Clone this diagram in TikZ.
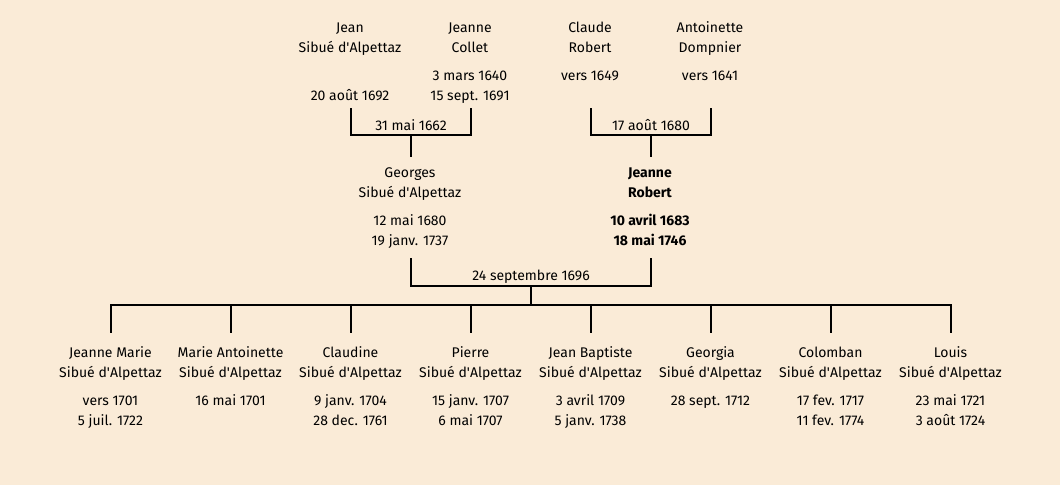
\documentclass[tikz,border=0pt]{standalone}
\usepackage{fontspec}
\setmainfont{Fira Sans}
\definecolor{paper}{HTML}{FAEBD7}
\newcommand{\sibue}{Sibué d\textquotesingle Alpettaz}
\tikzset{
  txt/.style={align=center, inner sep=0pt, anchor=base, font=\fontsize{14}{20}\selectfont},
  hers/.style={txt, font=\fontsize{14}{20}\selectfont\bfseries},
  link/.style={line width=2pt}
}

\begin{document}
\begin{tikzpicture}[x=1pt,y=-1pt]
        \fill[paper] (0,0) rectangle (1060,485);
        \useasboundingbox (0,0) rectangle (1060,485);
        % grandparents (y = baseline of the last line)
        \node[txt] (jean) at (350,52) {Jean\\\sibue};
        \node[txt] (jean-d) at (350,100) {20 août 1692};
        \node[txt] (collet) at (470,52) {Jeanne\\Collet};
        \node[txt] (collet-d) at (470,100) {3 mars 1640\\15 sept. 1691};
        \node[txt] (claude) at (590,52) {Claude\\Robert};
        \node[txt] (claude-d) at (590,80) {vers 1649};
        \node[txt] (antoinette) at (710,52) {Antoinette\\Dompnier};
        \node[txt] (antoinette-d) at (710,80) {vers 1641};
        % parents
        \node[txt] (georges) at (410,197) {Georges\\\sibue};
        \node[txt] (georges-d) at (410,245) {12 mai 1680\\19 janv. 1737};
        \node[hers] (robert) at (650,197) {Jeanne\\Robert};
        \node[hers] (robert-d) at (650,245) {10 avril 1683\\18 mai 1746};
        % marriages
        \coordinate (jean-b) at (351,108);
        \coordinate (collet-b) at (471,108);
        \coordinate (m1) at (411,135);
        \coordinate (georges-t) at (411,157);
        \coordinate (claude-b) at (591,108);
        \coordinate (antoinette-b) at (711,108);
        \coordinate (m2) at (651,135);
        \coordinate (robert-t) at (651,157);
        \coordinate (georges-b) at (411,258);
        \coordinate (robert-b) at (651,258);
        \coordinate (m3) at (531,286);
        \coordinate (bar) at (531,305);
        \draw[link] (jean-b) |- (m1) -| (collet-b);
        \draw[link] (m1) -- (georges-t);
        \node[txt] (m1-d) at (411,130) {31 mai 1662};
        \draw[link] (claude-b) |- (m2) -| (antoinette-b);
        \draw[link] (m2) -- (robert-t);
        \node[txt] (m2-d) at (651,130) {17 août 1680};
        \draw[link] (georges-b) |- (m3) -| (robert-b);
        \draw[link] (m3) -- (bar);
        \node[txt] (m3-d) at (531,280) {24 septembre 1696};
        % children
        \foreach \x/\first/\dates/\yd [count=\i] in {
            111/Jeanne Marie/{vers 1701\\5 juil. 1722}/425,
            231/Marie Antoinette/{16 mai 1701}/405,
            351/Claudine/{9 janv. 1704\\28 dec. 1761}/425,
            471/Pierre/{15 janv. 1707\\6 mai 1707}/425,
            591/Jean Baptiste/{3 avril 1709\\5 janv. 1738}/425,
            711/Georgia/{28 sept. 1712}/405,
            831/Colomban/{17 fev. 1717\\11 fev. 1774}/425,
            951/Louis/{23 mai 1721\\3 août 1724}/425} {
          \coordinate (c\i-t) at (\x,333);
          \draw[link] (bar) -| (c\i-t);
          \node[txt] (c\i) at (\x-0.5,377) {\first\\\sibue};
          \node[txt] (c\i-d) at (\x-0.5,\yd) {\dates};
        }
      \end{tikzpicture}
\end{document}
